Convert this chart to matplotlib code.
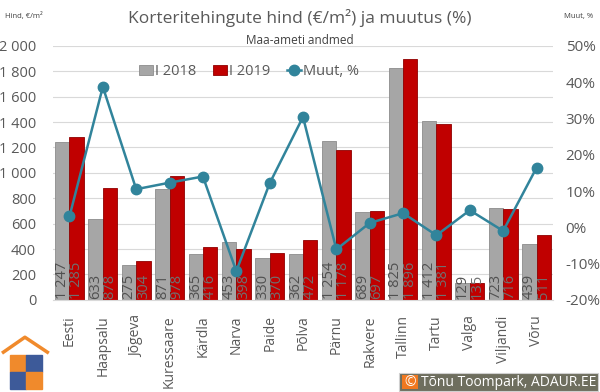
import numpy as np
import matplotlib.pyplot as plt
from matplotlib.patches import Rectangle
from matplotlib.ticker import FuncFormatter

plt.rcParams['font.family'] = ['Open Sans', 'DejaVu Sans']

# andmed
linnad = ['Eesti', 'Haapsalu', 'Jõgeva', 'Kuressaare', 'Kärdla', 'Narva', 'Paide', 'Põlva',
          'Pärnu', 'Rakvere', 'Tallinn', 'Tartu', 'Valga', 'Viljandi', 'Võru']
hind_2018 = [1247, 633, 275, 871, 365, 453, 330, 362, 1254, 689, 1825, 1412, 129, 723, 439]
hind_2019 = [1285, 878, 304, 978, 416, 398, 370, 472, 1178, 697, 1896, 1381, 135, 716, 511]
muutus = [3.0, 38.7, 10.5, 12.3, 14.0, -12.1, 12.1, 30.4, -6.1, 1.2, 3.9, -2.2, 4.7, -1.0, 16.4]

HALL = '#A6A6A6'
PUNANE = '#C00000'
SININE = '#31849B'
TEKST = '#595959'

fig = plt.figure(figsize=(6, 3.92), dpi=100)
ax = fig.add_axes([0.088, 0.235, 0.834, 0.648])
ax2 = ax.twinx()

x = np.arange(len(linnad))
w = 0.43
b1 = ax.bar(x - w / 2, hind_2018, w, color=HALL, edgecolor='#8c8c8c', linewidth=0.6, label='I 2018', zorder=2)
b2 = ax.bar(x + w / 2, hind_2019, w, color=PUNANE, edgecolor='#8f0000', linewidth=0.6, label='I 2019', zorder=2)

def tuh(v):
    return f'{v:,}'.replace(',', ' ')

for i in range(len(linnad)):
    ax.text(x[i] - w / 2, 6, tuh(hind_2018[i]), rotation=90, ha='center', va='bottom',
            fontsize=10.5, color='#505050', zorder=3)
    ax.text(x[i] + w / 2, 6, tuh(hind_2019[i]), rotation=90, ha='center', va='bottom',
            fontsize=10.5, color='#707070', zorder=3)

ln, = ax2.plot(x, muutus, color=SININE, lw=1.8, marker='o', ms=7.5, label='Muut, %', zorder=4)

ax.set_xlim(-0.5, len(linnad) - 0.5)
ax.set_ylim(0, 2000)
ax.set_yticks(np.arange(0, 2001, 200))
ax.yaxis.set_major_formatter(FuncFormatter(lambda v, p: tuh(int(v))))
ax.grid(axis='y', color='#D9D9D9', lw=0.8, zorder=0)
ax.set_axisbelow(True)
ax.set_xticks(x)
ax.set_xticklabels(linnad, rotation=90, fontsize=10, color=TEKST)
ax.tick_params(axis='x', length=0, pad=11)
ax.tick_params(axis='y', length=0, pad=12, labelsize=10.5, labelcolor=TEKST)

ax2.set_ylim(-20, 50)
ax2.set_yticks(np.arange(-20, 51, 10))
ax2.yaxis.set_major_formatter(FuncFormatter(lambda v, p: f'{int(v)}%'))
ax2.tick_params(axis='y', length=0, pad=9, labelsize=11, labelcolor=TEKST)

for a in (ax, ax2):
    for s in a.spines.values():
        s.set_visible(False)
ax.spines['bottom'].set_visible(True)
ax.spines['bottom'].set_color('#D9D9D9')

fig.text(0.5, 0.955, 'Korteritehingute hind (€/m²) ja muutus (%)', ha='center', va='center',
         fontsize=12.5, color=TEKST)
fig.text(0.5, 0.897, 'Maa-ameti andmed', ha='center', va='center', fontsize=8.5, color='#404040')
fig.text(0.008, 0.958, 'Hind, €/m²', ha='left', va='center', fontsize=5.5, color='#404040')
fig.text(0.94, 0.958, 'Muut, %', ha='left', va='center', fontsize=5.5, color='#404040')

fig.legend(handles=[b1, b2, ln], loc='center', bbox_to_anchor=(0.415, 0.817), ncol=3,
           frameon=False, fontsize=10.5, handlelength=1.0, handletextpad=0.15, columnspacing=1.1,
           labelcolor=TEKST)

# logo
lg = fig.add_axes([0.0, 0.0, 0.088, 0.155])
lg.set_xlim(0, 53)
lg.set_ylim(61, 0)
lg.axis('off')
OR = '#F08A2C'
BL = '#3D5A99'
lg.plot([2, 25, 49], [22, 6, 22], color=OR, lw=2.5, solid_capstyle='butt')
lg.add_patch(Rectangle((10, 24), 16, 17, color=OR))
lg.add_patch(Rectangle((26, 24), 16, 17, color=BL))
lg.add_patch(Rectangle((10, 41), 16, 17, color=BL))
lg.add_patch(Rectangle((26, 41), 16, 17, color=OR))

# copyright
fig.patches.append(Rectangle((399 / 600, 1 / 392), 199 / 600, 18 / 392, transform=fig.transFigure,
                             facecolor='#6E6E5E', edgecolor='#D0D0D0', lw=0.8, figure=fig))
fig.patches.append(Rectangle((402 / 600, 3 / 392), 16 / 600, 14 / 392, transform=fig.transFigure,
                             facecolor='#F07820', edgecolor='none', figure=fig))
fig.text(410 / 600, 10 / 392, '©', ha='center', va='center', fontsize=10, color='white')
fig.text(421 / 600, 10 / 392, 'Tõnu Toompark, ADAUR.EE', ha='left', va='center', fontsize=10, color='white')

fig.savefig('out.png', dpi=100)
